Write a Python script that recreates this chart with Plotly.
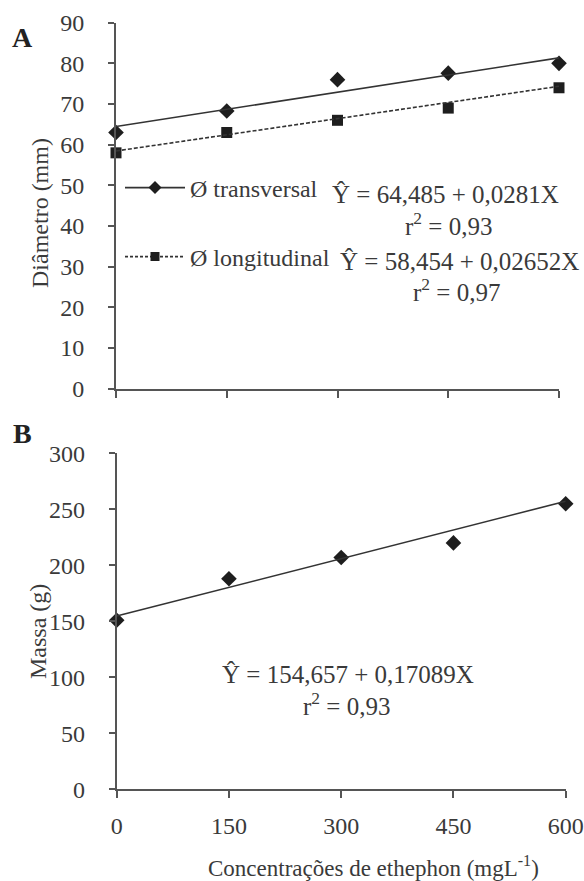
import plotly.graph_objects as go

# ---------------- data ----------------
conc = [0, 150, 300, 450, 600]
diam_transversal = [63, 68.3, 76, 77.6, 80]
diam_longitudinal = [58, 63, 66, 69, 74]
massa = [151, 188, 207, 220, 255]

# regression equations (from the figure)
trans_a, trans_b = 64.485, 0.0281
long_a, long_b = 58.454, 0.02652
massa_a, massa_b = 154.657, 0.17089

x_ticks = [0, 150, 300, 450, 600]
ya_ticks = [0, 10, 20, 30, 40, 50, 60, 70, 80, 90]
yb_ticks = [0, 50, 100, 150, 200, 250, 300]

W, H = 584, 881
FONT = "Liberation Serif, Times New Roman, serif"
TXT = "#3a3a3a"
AX = "#555555"
MK = "#1e1e1e"
LN = "#333333"


def px(x):
    return x / W


def py(y):
    return 1 - y / H


fit_x = [conc[0], conc[-1]]

fig = go.Figure()

# Panel A - transversal
fig.add_trace(go.Scatter(x=conc, y=diam_transversal, mode="markers", showlegend=False,
                         marker=dict(symbol="diamond", size=12, color=MK),
                         xaxis="x", yaxis="y", cliponaxis=False))
fig.add_trace(go.Scatter(x=fit_x, y=[trans_a + trans_b * v for v in fit_x], mode="lines",
                         showlegend=False, line=dict(color=LN, width=1.6),
                         xaxis="x", yaxis="y", cliponaxis=False))
# Panel A - longitudinal
fig.add_trace(go.Scatter(x=conc, y=diam_longitudinal, mode="markers", showlegend=False,
                         marker=dict(symbol="square", size=11, color=MK),
                         xaxis="x", yaxis="y", cliponaxis=False))
fig.add_trace(go.Scatter(x=fit_x, y=[long_a + long_b * v for v in fit_x], mode="lines",
                         showlegend=False, line=dict(color=LN, width=1.6, dash="4px,2px"),
                         xaxis="x", yaxis="y", cliponaxis=False))
# legend entries
fig.add_trace(go.Scatter(x=[None], y=[None], mode="lines+markers", name="Ø transversal",
                         marker=dict(symbol="diamond", size=10, color=MK),
                         line=dict(color=LN, width=1.6), legend="legend",
                         xaxis="x", yaxis="y"))
fig.add_trace(go.Scatter(x=[None], y=[None], mode="lines+markers", name="Ø longitudinal",
                         marker=dict(symbol="square", size=9, color=MK),
                         line=dict(color=LN, width=1.6, dash="3px,2px"), legend="legend2",
                         xaxis="x", yaxis="y"))

# Panel B
fig.add_trace(go.Scatter(x=conc, y=massa, mode="markers", showlegend=False,
                         marker=dict(symbol="diamond", size=12, color=MK),
                         xaxis="x2", yaxis="y2", cliponaxis=False))
fig.add_trace(go.Scatter(x=fit_x, y=[massa_a + massa_b * v for v in fit_x], mode="lines",
                         showlegend=False, line=dict(color=LN, width=1.6),
                         xaxis="x2", yaxis="y2", cliponaxis=False))

axis_common = dict(showgrid=False, zeroline=False, showline=True, linecolor=AX, linewidth=2,
                   ticks="outside", tickwidth=2, tickcolor=AX, automargin=False,
                   tickfont=dict(family=FONT, size=24, color=TXT))

fig.update_layout(
    width=W, height=H,
    margin=dict(l=0, r=0, t=0, b=0, autoexpand=False),
    paper_bgcolor="white", plot_bgcolor="white",
    font=dict(family=FONT, color=TXT),
    xaxis=dict(domain=[px(116), px(559)], range=[0, 600], tickvals=x_ticks,
               showticklabels=False, anchor="y", ticklen=7, **axis_common),
    yaxis=dict(domain=[py(388.7), py(22.7)], range=[0, 90], tickvals=ya_ticks,
               anchor="x", ticklen=6, ticklabelstandoff=19, **axis_common),
    xaxis2=dict(domain=[px(116.7), px(565.7)], range=[0, 600], tickvals=x_ticks,
                anchor="y2", ticklen=7, ticklabelstandoff=7, **axis_common),
    yaxis2=dict(domain=[py(789.3), py(453.3)], range=[0, 300], tickvals=yb_ticks,
                anchor="x2", ticklen=6, ticklabelstandoff=19, **axis_common),
    legend=dict(x=px(120), y=py(188), xanchor="left", yanchor="middle",
                bgcolor="rgba(0,0,0,0)", font=dict(family=FONT, size=24, color=TXT),
                itemwidth=60, tracegroupgap=0),
    legend2=dict(x=px(120), y=py(257), xanchor="left", yanchor="middle",
                 bgcolor="rgba(0,0,0,0)", font=dict(family=FONT, size=24, color=TXT),
                 itemwidth=60, tracegroupgap=0),
)


def ann(text, x, y, size=25, bold=False, angle=0):
    f = dict(family=FONT, size=size, color=TXT if not bold else "#222222")
    if bold:
        text = "<b>" + text + "</b>"
    fig.add_annotation(text=text, x=px(x), y=py(y), xref="paper", yref="paper",
                       showarrow=False, xanchor="center", yanchor="middle",
                       font=f, textangle=angle)


ann("Ŷ = 64,485 + 0,0281X", 445, 195)
ann("r<sup>2</sup> = 0,93", 448.5, 224)
ann("Ŷ = 58,454 + 0,02652X", 459, 262)
ann("r<sup>2</sup> = 0,97", 456.5, 290)
ann("Ŷ = 154,657 + 0,17089X", 348, 674)
ann("r<sup>2</sup> = 0,93", 346, 704)

ann("Diâmetro (mm)", 40, 213, size=24, angle=-90)
ann("Massa (g)", 38, 632, size=24, angle=-90)
ann("Concentrações de ethephon (mgL<sup>-1</sup>)", 373.5, 866, size=23)

ann("A", 22, 37, size=28, bold=True)
ann("B", 22, 433, size=28, bold=True)

fig.write_html(
    "out.html",
    config={"displayModeBar": False},
    post_script="document.body.style.margin='0';document.body.style.padding='0';"
                "document.body.style.overflow='hidden';",
)
